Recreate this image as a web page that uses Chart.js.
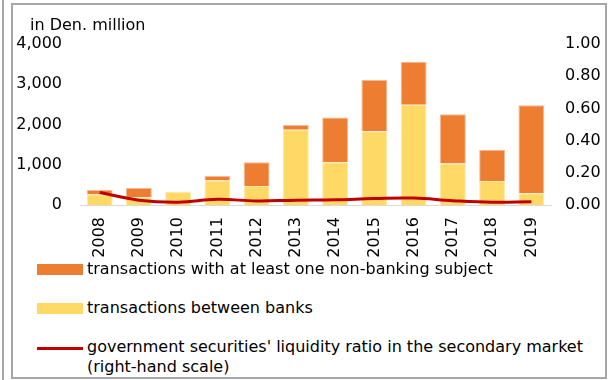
<!DOCTYPE html>
<html lang="en">

<head>
    <meta charset="UTF-8" />
    <meta name="viewport" content="width=device-width, initial-scale=1.0" />
    <title>Government securities secondary market</title>
    <script src="https://cdn.jsdelivr.net/npm/chart.js"></script>
    <style>
        body { margin: 0; background: #fff; font-family: "DejaVu Sans", sans-serif; color: #000; }
        #wrap { position: relative; width: 611px; height: 380px; overflow: hidden; }
        #side-line { position: absolute; left: 2px; top: 0; width: 2px; height: 380px; background: #a6a6a6; }
        #frame { position: absolute; left: 11px; top: 3px; width: 596px; height: 376px; border: 2px solid #a6a6a6; box-sizing: border-box; }
        #chart-box { position: absolute; left: 0; top: 0; width: 611px; height: 260px; }
        #unit { position: absolute; left: 30px; top: 15px; font-size: 16px; line-height: 20px; white-space: nowrap; }
        .leg { position: absolute; left: 37px; font-size: 16px; line-height: 20px; }
        .leg .sw { position: absolute; left: 0; width: 46px; }
        .leg .txt { position: absolute; left: 50px; white-space: nowrap; }
    </style>
</head>

<body>
    <div id="wrap">
        <div id="side-line"></div>
        <div id="frame"></div>
        <div id="chart-box"><canvas id="grafik" width="611" height="260"></canvas></div>
        <div id="unit">in Den. million</div>
        <div id="legenda"></div>
    </div>

    <script>
        // Data (Den. million, ratio on right scale)
        const years = ['2008', '2009', '2010', '2011', '2012', '2013', '2014', '2015', '2016', '2017', '2018', '2019'];
        const betweenBanks = [270, 190, 320, 610, 470, 1870, 1065, 1835, 2490, 1030, 595, 295];
        const nonBanking = [100, 230, 10, 110, 590, 115, 1110, 1270, 1070, 1225, 780, 2185];
        const liquidityRatio = [0.078, 0.03, 0.017, 0.035, 0.025, 0.03, 0.032, 0.04, 0.043, 0.027, 0.017, 0.02];

        const leftMax = 4000, leftStep = 1000;
        const rightMax = 1, rightStep = 0.2;

        const labelNonBanking = 'transactions with at least one non-banking subject';
        const labelBanks = 'transactions between banks';
        const labelRatio = ['government securities\' liquidity ratio in the secondary market', '(right-hand scale)'];

        const orange = '#ED7D31';
        const yellow = '#FFD966';
        const red = '#C00000';

        Chart.defaults.font.family = '"DejaVu Sans", sans-serif';
        Chart.defaults.font.size = 16;
        Chart.defaults.color = '#000';

        const ctx = document.getElementById('grafik').getContext('2d');
        const grafik = new Chart(ctx, {
            type: 'bar',
            data: {
                labels: years,
                datasets: [
                    {
                        type: 'line',
                        label: labelRatio.join(' '),
                        data: liquidityRatio,
                        yAxisID: 'y1',
                        borderColor: red,
                        backgroundColor: red,
                        borderWidth: 3,
                        tension: 0.4,
                        pointRadius: 0,
                        fill: false,
                        order: 0
                    },
                    {
                        label: labelBanks,
                        data: betweenBanks,
                        backgroundColor: yellow,
                        borderColor: '#fde9a8',
                        borderWidth: 1,
                        yAxisID: 'y',
                        barPercentage: 0.66,
                        categoryPercentage: 1,
                        order: 1
                    },
                    {
                        label: labelNonBanking,
                        data: nonBanking,
                        backgroundColor: orange,
                        borderColor: '#f6b994',
                        borderWidth: 1,
                        yAxisID: 'y',
                        barPercentage: 0.66,
                        categoryPercentage: 1,
                        order: 1
                    }
                ]
            },
            options: {
                responsive: false,
                animation: false,
                layout: { padding: { top: 44, left: 0, right: 0, bottom: 0 } },
                plugins: {
                    legend: { display: false },
                    tooltip: { enabled: false }
                },
                scales: {
                    x: {
                        stacked: true,
                        grid: { display: false, drawTicks: false },
                        border: { color: '#d9d9d9', width: 1 },
                        ticks: { minRotation: 90, maxRotation: 90, padding: 12 },
                        afterFit: (s) => { s.height = 55; }
                    },
                    y: {
                        stacked: true,
                        min: 0,
                        max: leftMax,
                        grid: { display: false, drawTicks: false },
                        border: { display: false },
                        ticks: {
                            stepSize: leftStep,
                            padding: 18,
                            callback: (v) => v.toLocaleString('en-US')
                        },
                        afterFit: (s) => { s.width = 80; }
                    },
                    y1: {
                        position: 'right',
                        min: 0,
                        max: rightMax,
                        grid: { display: false, drawTicks: false },
                        border: { display: false },
                        ticks: {
                            stepSize: rightStep,
                            padding: 14,
                            callback: (v) => v.toFixed(2)
                        },
                        afterFit: (s) => { s.width = 60; }
                    }
                }
            }
        });

        // legend below the chart, one item per row
        const legendItems = [
            { text: [labelNonBanking], kind: 'box', color: orange, top: 259 },
            { text: [labelBanks], kind: 'box', color: yellow, top: 298 },
            { text: labelRatio, kind: 'line', color: red, top: 337 }
        ];
        const legenda = document.getElementById('legenda');
        legendItems.forEach(item => {
            const row = document.createElement('div');
            row.className = 'leg';
            row.style.top = item.top + 'px';
            const sw = document.createElement('div');
            sw.className = 'sw';
            sw.style.background = item.color;
            if (item.kind === 'box') {
                sw.style.top = '5px';
                sw.style.height = '11px';
            } else {
                sw.style.top = '10px';
                sw.style.height = '3px';
            }
            const txt = document.createElement('div');
            txt.className = 'txt';
            txt.innerHTML = item.text.join('<br>');
            row.appendChild(sw);
            row.appendChild(txt);
            legenda.appendChild(row);
        });
    </script>
</body>

</html>
